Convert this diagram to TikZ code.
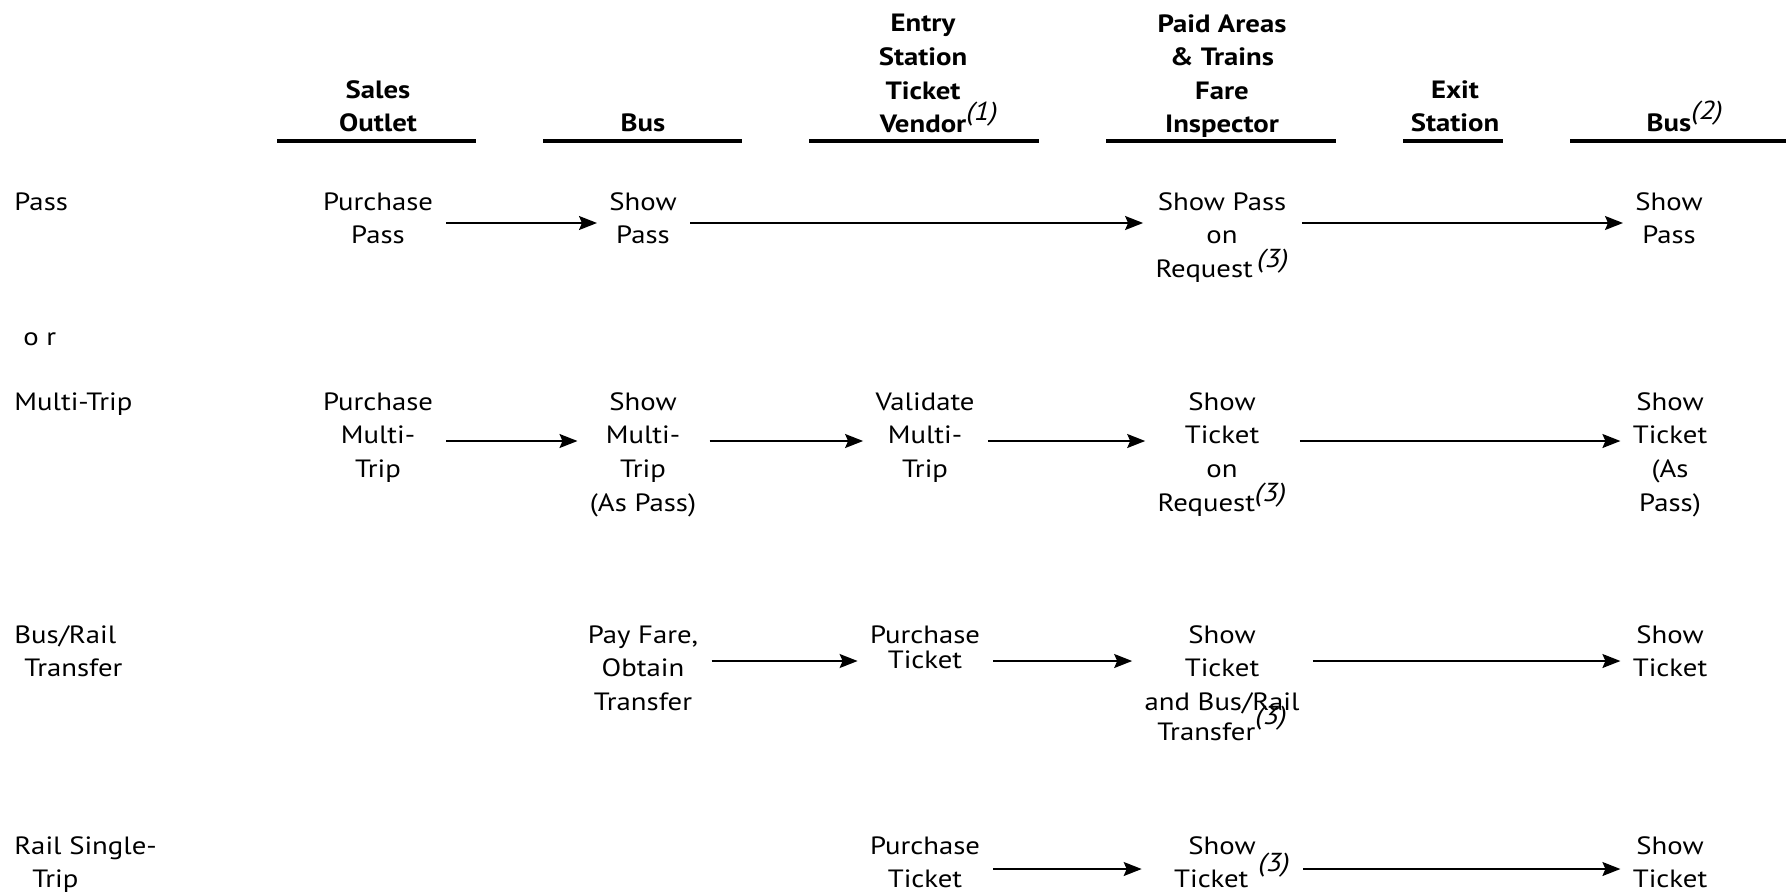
\documentclass[tikz,border=0pt]{standalone}
\usepackage{fontspec}
\setmainfont[FakeStretch=1.15]{PT Sans}
\usetikzlibrary{arrows.meta}
\newcommand\txtfont{\fontsize{12.5}{16.8}\selectfont}
\newcommand\refmk[2][5pt]{\smash{\raisebox{#1}{\fontsize{13}{13}\selectfont\mdseries\itshape(#2)}}}
\tikzset{
  lbl/.style={anchor=north, align=center, font=\txtfont, inner sep=0pt},
  hdr/.style={lbl, font=\txtfont\bfseries},
  rowlbl/.style={anchor=north west, align=left, font=\txtfont, inner sep=0pt},
  uline/.style={line width=1.6pt},
  arr/.style={-{Stealth[length=9pt,width=7pt,inset=1.5pt]}, line width=0.8pt, shorten <=6.5pt, shorten >=6pt}
}
\begin{document}
\begin{tikzpicture}[x=0.5pt,y=-0.5pt]
\useasboundingbox (0,0) rectangle (1786,894);
% headers
\node[hdr] (h1) at (378,80) {Sales\\Outlet};
\node[hdr] (h2) at (643,113) {Bus};
\node[hdr] (h3) at (923,14) {Entry\\Station\\Ticket\\Vendor\rlap{\refmk[6pt]{1}}};
\node[hdr] (h4) at (1222,14) {Paid Areas\\\& Trains\\Fare\\Inspector};
\node[hdr] (h5) at (1455,80) {Exit\\Station};
\node[hdr] (h6) at (1669,113) {Bus\rlap{\refmk[6pt]{2}}};
\draw[uline] (277,141) -- (476,141);
\draw[uline] (543,141) -- (742,141);
\draw[uline] (809,141) -- (1039,141);
\draw[uline] (1106,141) -- (1336,141);
\draw[uline] (1403,141) -- (1503,141);
\draw[uline] (1570,141) -- (1786,141);
% row coordinates for arrows
\coordinate (r1) at (0,223);
\coordinate (r2) at (0,441);
\coordinate (r3) at (0,661);
\coordinate (r4) at (0,869);
% row 1
\node[rowlbl] (l1) at (14,192) {Pass};
\node[lbl] (n11) at (378,192) {Purchase\\Pass};
\node[lbl] (n12) at (643,192) {Show\\Pass};
\node[lbl] (n14) at (1222,192) {Show Pass\\on\\Request\,\refmk{3}};
\node[lbl] (n16) at (1669,192) {Show\\Pass};
\draw[arr] (n11.east |- r1) -- (n12.west |- r1);
\draw[arr] (n12.east |- r1) -- (n14.west |- r1);
\draw[arr] (n14.east |- r1) -- (n16.west |- r1);
\node[rowlbl] (or) at (23,332) {o r};
% row 2
\node[rowlbl] (l2) at (14,392) {Multi-Trip};
\node[lbl] (n21) at (378,392) {Purchase\\Multi-\\Trip};
\node[lbl] (n22) at (643,392) {Show\\Multi-\\Trip\\(As Pass)};
\node[lbl] (n23) at (925,392) {Validate\\Multi-\\Trip};
\node[lbl] (n24) at (1222,392) {Show\\Ticket\\on\\Request\refmk{3}};
\node[lbl] (n26) at (1670,392) {Show\\Ticket\\(As\\Pass)};
\draw[arr] (n21.east |- r2) -- (n22.west |- r2);
\draw[arr] (n22.east |- r2) -- (n23.west |- r2);
\draw[arr] (n23.east |- r2) -- (n24.west |- r2);
\draw[arr] (n24.east |- r2) -- (n26.west |- r2);
% row 3
\node[rowlbl] (l3) at (14,625) {Bus/Rail\\\hspace*{5pt}Transfer};
\node[lbl] (n32) at (643,625) {Pay Fare,\\Obtain\\Transfer};
\node[lbl] (n33) at (925,625) {Purchase\\[-4pt]Ticket};
\node[lbl] (n34) at (1222,625) {Show\\Ticket\\and Bus/Rail\\[-2pt]Transfer\refmk[8pt]{3}};
\node[lbl] (n36) at (1670,625) {Show\\Ticket};
\draw[arr] (n32.east |- r3) -- (n33.west |- r3);
\draw[arr] (n33.east |- r3) -- (n34.west |- r3);
\draw[arr] (n34.east |- r3) -- (n36.west |- r3);
% row 4
\node[rowlbl] (l4) at (14,836) {Rail Single-\\\hspace*{9pt}Trip};
\node[lbl] (n43) at (925,836) {Purchase\\Ticket};
\node[lbl] (n44) at (1222,836) {Show\\\hspace*{10pt}Ticket\hspace{5pt}\refmk[8pt]{3}};
\node[lbl] (n46) at (1670,836) {Show\\Ticket};
\draw[arr] (n43.east |- r4) -- (n44.west |- r4);
\draw[arr] (n44.east |- r4) -- (n46.west |- r4);
\end{tikzpicture}
\end{document}
